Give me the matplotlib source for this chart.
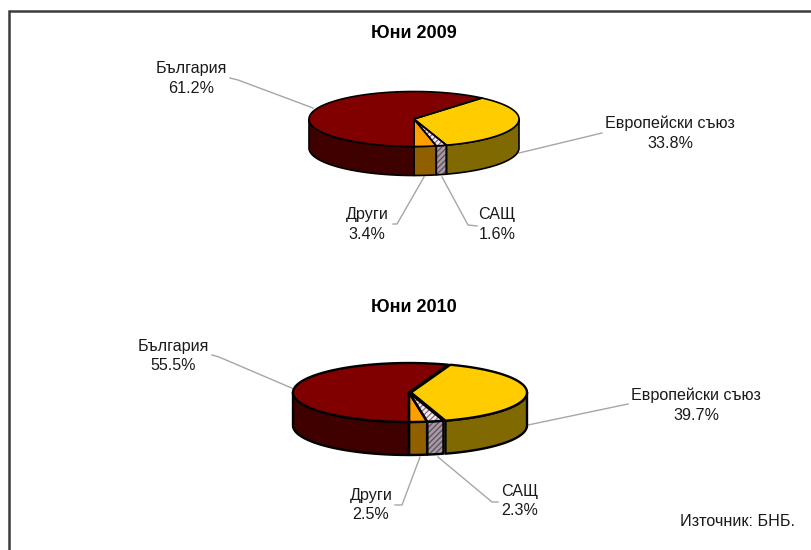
"""
Foreign ownership pies, June 2009 and June 2010 (drawn as tilted 3D pies)
"""

import numpy as np
import matplotlib
matplotlib.use("Agg")
import matplotlib.pyplot as plt
from matplotlib.patches import Polygon

plt.rcParams['font.family'] = ['Liberation Sans', 'DejaVu Sans']
plt.rcParams['hatch.linewidth'] = 0.9

# order is counter clockwise round the pie, first slice ends at the front
names = ["България", "Други", "САЩ", "Европейски съюз"]
shares_2009 = [61.2, 3.4, 1.6, 33.8]
shares_2010 = [55.5, 2.5, 2.3, 39.7]
titles = ["Юни 2009", "Юни 2010"]
source = "Източник: БНБ."

top_colors = ["#800000", "#ff9f00", "#f4e6ee", "#ffcc00"]
side_colors = ["#3f0000", "#8f5f00", "#a79aa6", "#7f6900"]
hatch_colors = [None, None, "#8a6a80", None]
side_hatch_colors = [None, None, "#5c5058", None]


def ellipse_pts(cx, cy, rx, ry, a0, a1, dy=0):
    t = np.radians(np.linspace(a0, a1, 80))
    return np.column_stack([cx + rx*np.cos(t), cy - ry*np.sin(t) + dy])


def draw_face(ax, pts, color, hatch_color, lw, z):
    ax.add_patch(Polygon(pts, closed=True, facecolor=color, edgecolor="none", zorder=z))
    if hatch_color is not None:
        ax.add_patch(Polygon(pts, closed=True, facecolor="none", edgecolor=hatch_color,
                             hatch="//////", linewidth=0, zorder=z+0.1))
    ax.add_patch(Polygon(pts, closed=True, fill=False, edgecolor="black",
                         linewidth=lw, joinstyle="round", zorder=z+0.2))


def draw_pie(ax, shares, cx, cy, rx, ry, depth, explode=None, lw=1.2):
    a = 270 - shares[0]*3.6
    for i, share in enumerate(shares):
        a_end = a + share*3.6
        ox, oy = (0, 0)
        if explode is not None and i == explode[0]:
            ox, oy = explode[1]
        # visible part of the rim is the lower half of the ellipse
        lo = max(a, 180)
        hi = min(a_end, 360)
        if hi > lo:
            upper = ellipse_pts(cx+ox, cy+oy, rx, ry, lo, hi)
            lower = ellipse_pts(cx+ox, cy+oy, rx, ry, hi, lo, dy=depth)
            draw_face(ax, np.vstack([upper, lower]), side_colors[i], side_hatch_colors[i], lw, 2)
        arc = ellipse_pts(cx+ox, cy+oy, rx, ry, a, a_end)
        draw_face(ax, np.vstack([[cx+ox, cy+oy], arc]), top_colors[i], hatch_colors[i], lw, 3)
        a = a_end


fig = plt.figure(figsize=(8.11, 5.5), dpi=100)
ax = fig.add_axes([0, 0, 1, 1])
ax.set_xlim(0, 811)
ax.set_ylim(550, 0)
ax.axis("off")

# frame, right and bottom edges are cut off in the original
ax.plot([9, 9, 811], [550, 11, 11], color="#3c3c3c", lw=1.8, solid_joinstyle="miter")

draw_pie(ax, shares_2009, 414, 119, 105, 27.5, 29)
draw_pie(ax, shares_2010, 409, 392.5, 116, 29.5, 33, explode=(3, (2, 0)), lw=1.7)

label_pos_2009 = [(191.5, 78.5), (367, 224.5), (497, 224.5), (670, 133.5)]
label_pos_2010 = [(173, 356), (371, 505), (520, 501), (696, 405)]
leaders_2009 = [[(230, 78), (238, 80), (313, 108)],
                [(393, 224), (397, 224), (424, 177)],
                [(477, 226), (468, 225), (442, 177)],
                [(602, 133), (519, 153)]]
leaders_2010 = [[(212, 355), (219, 357), (294, 389)],
                [(395, 505), (402, 505), (420, 457)],
                [(498, 502), (492, 502), (438, 457)],
                [(628, 404), (528, 425)]]

for shares, pos, leaders in [(shares_2009, label_pos_2009, leaders_2009),
                             (shares_2010, label_pos_2010, leaders_2010)]:
    for name, share, p, line in zip(names, shares, pos, leaders):
        ax.text(p[0], p[1], f"{name}\n{share:.1f}%", ha="center", va="center",
                fontsize=11.6, color="#1a1a1a", linespacing=1.4)
        ax.plot([q[0] for q in line], [q[1] for q in line],
                color="#a6a6a6", lw=1.0, zorder=1)

ax.text(414, 33, titles[0], ha="center", va="center", fontsize=13, fontweight="bold")
ax.text(414, 307, titles[1], ha="center", va="center", fontsize=13, fontweight="bold")
ax.text(738, 522, source, ha="center", va="center", fontsize=11.6, color="#1a1a1a")

fig.savefig("out.png", dpi=100, facecolor="white")
